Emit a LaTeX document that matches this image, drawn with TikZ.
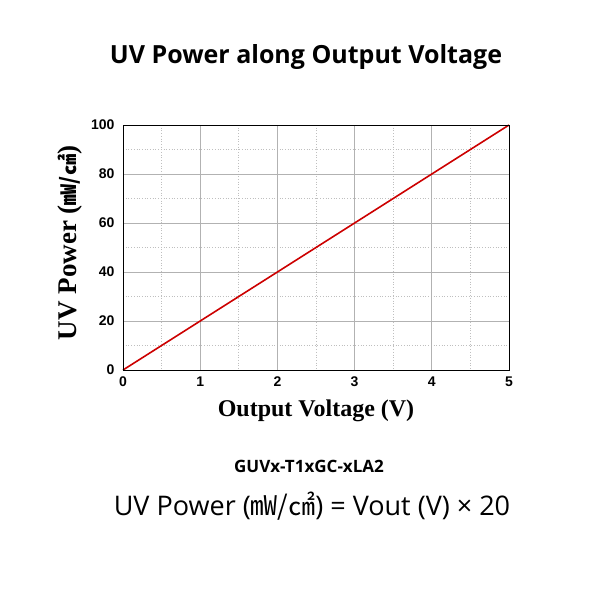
\documentclass[tikz,border=0pt]{standalone}
\usepackage{fontspec}
\setmainfont{Liberation Serif}
\newfontfamily\ns{Open Sans}
\newfontfamily\ar{Liberation Sans}
\newfontfamily\cjk{Noto Sans CJK KR}
\begin{document}
\begin{tikzpicture}[x=1pt,y=-1pt,
  tick/.style={font=\ar\bfseries\fontsize{14}{14}\selectfont},
  major/.style={gray!60,line width=0.8pt},
  minor/.style={gray!50,dotted,line width=0.7pt}]
\useasboundingbox (0,0) rectangle (600,600);
\node (title) at (306,57) {\ns\bfseries\fontsize{25}{25}\selectfont UV Power along Output Voltage};
% grid
\foreach \i in {0.5,1.5,2.5,3.5,4.5} \draw[minor] (123+77.2*\i,125) -- (123+77.2*\i,370);
\foreach \j in {10,30,50,70,90} \draw[minor] (123,370-2.45*\j) -- (509,370-2.45*\j);
\foreach \i in {1,2,3,4} \draw[major] (123+77.2*\i,125) -- (123+77.2*\i,370);
\foreach \j in {20,40,60,80} \draw[major] (123,370-2.45*\j) -- (509,370-2.45*\j);
\coordinate (o) at (123,370);
\coordinate (e) at (509,125);
\draw[red!80!black,line width=1.6pt] (o) -- (e);
\draw[line width=1pt] (o) rectangle (e);
\foreach \i in {0,...,5} \node[tick] (xt\i) at (123+77.2*\i,382) {\i};
\foreach \j in {0,20,40,60,80,100} \node[tick,anchor=east] (yt\j) at (118,370-2.45*\j) {\j};
\node (xl) at (316,411) {\bfseries\fontsize{24}{24}\selectfont Output Voltage (V)};
\node[rotate=90] (yl) at (70,243) {\bfseries\fontsize{27}{27}\selectfont UV Power ({\cjk\bfseries\fontsize{21}{21}\selectfont ㎽/㎠})};
\node (model) at (309,466) {\ns\bfseries\fontsize{17}{17}\selectfont GUVx-T1xGC-xLA2};
\node (formula) at (312,506) {\ns\fontsize{27}{27}\selectfont UV Power ({\cjk ㎽/㎠}) = Vout (V) × 20};
\end{tikzpicture}
\end{document}
